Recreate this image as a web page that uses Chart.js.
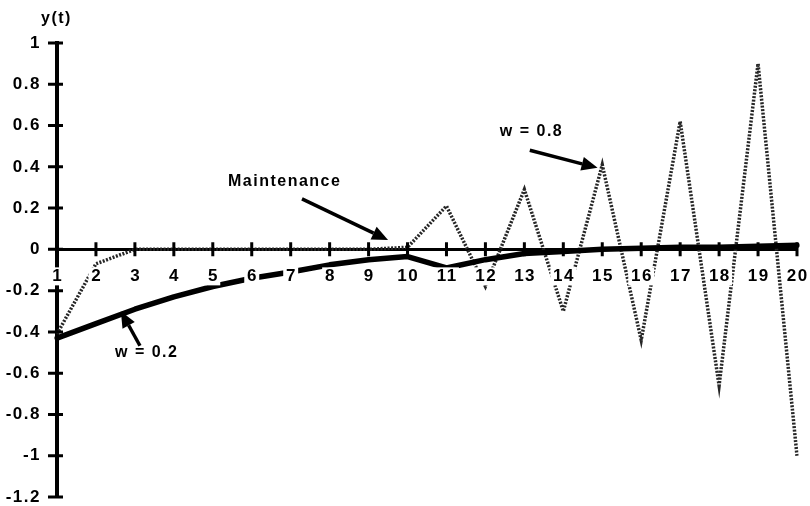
<!DOCTYPE html>
<html>
<head>
<meta charset="utf-8">
<script src="https://cdn.jsdelivr.net/npm/chart.js@4"></script>
<style>
  html, body { margin: 0; padding: 0; background: #fff; }
  #wrap { width: 810px; height: 506px; }
</style>
</head>
<body>
<div id="wrap"><canvas id="c" width="810" height="506"></canvas></div>
<script>
// Time periods t = 1 .. 20
const periods = ['1','2','3','4','5','6','7','8','9','10','11','12','13','14','15','16','17','18','19','20'];

// Response y(t) for smoothing weight w = 0.2 (heavy solid curve)
const responseW02 = [-0.43, -0.36, -0.29, -0.23, -0.18, -0.14, -0.11, -0.075, -0.05, -0.035,
                     -0.09, -0.05, -0.02, -0.01, 0, 0.005, 0.01, 0.01, 0.015, 0.02];

// Response y(t) for smoothing weight w = 0.8 (dotted, oscillating after maintenance)
const responseW08 = [-0.41, -0.07, 0, 0, 0, 0, 0, 0, 0, 0.01,
                     0.21, -0.18, 0.29, -0.30, 0.41, -0.44, 0.62, -0.66, 0.90, -1.0];

// Value axis ticks
const yTickValues = [1, 0.8, 0.6, 0.4, 0.2, 0, -0.2, -0.4, -0.6, -0.8, -1, -1.2];

// Callout labels, anchored in data space (x = category index, y = value)
const callouts = [
  { text: 'Maintenance', at: [4.39, 0.33], from: [6.29, 0.245], to: [8.5, 0.045] },
  { text: 'w = 0.8',     at: [11.37, 0.57], from: [12.14, 0.48], to: [13.88, 0.395] },
  { text: 'w = 0.2',     at: [1.49, -0.50], from: [2.13, -0.467], to: [1.64, -0.30] }
];

const FONT_FAMILY = '"Liberation Sans", Arial, Helvetica, sans-serif';

function fmtTick(v) {
  const r = Math.round(v * 10) / 10;
  return String(r === 0 ? 0 : r);
}

// Slightly spaced lettering for every text on the canvas
const spacing = {
  id: 'spacing',
  beforeDraw(chart) {
    if ('letterSpacing' in chart.ctx) chart.ctx.letterSpacing = '1.5px';
  }
};

// Category labels under the zero line, each on a white patch that breaks the lines behind it
const periodLabels = {
  id: 'periodLabels',
  afterDraw(chart) {
    const { ctx, scales: { x, y } } = chart;
    const y0 = y.getPixelForValue(0);
    ctx.save();
    ctx.font = 'bold 17px ' + FONT_FAMILY;
    ctx.textAlign = 'center';
    ctx.textBaseline = 'middle';
    x.ticks.forEach((t, i) => {
      const label = String(x.getLabelForValue(t.value));
      const px = x.getPixelForTick(i);
      const w = ctx.measureText(label).width;
      const ly = y0 + 27;
      ctx.fillStyle = '#fff';
      ctx.fillRect(px - w / 2 - 2, ly - 9, w + 4, 18);
      ctx.fillStyle = '#000';
      ctx.fillText(label, px + 0.75, ly);
    });
    ctx.restore();
  }
};

// Tick marks that cross each axis line
const crossTicks = {
  id: 'crossTicks',
  afterDraw(chart) {
    const { ctx, scales: { x, y } } = chart;
    const y0 = y.getPixelForValue(0);
    const xAxis = y.right;
    ctx.save();
    ctx.strokeStyle = '#000';
    ctx.lineWidth = 3;
    ctx.beginPath();
    x.ticks.forEach((t, i) => {
      if (i === 0) return;
      const px = x.getPixelForTick(i);
      ctx.moveTo(px, y0 - 7);
      ctx.lineTo(px, y0 + 7);
    });
    y.ticks.forEach((t, i) => {
      const py = y.getPixelForTick(i);
      ctx.moveTo(xAxis - 9, py);
      ctx.lineTo(xAxis + 6, py);
    });
    ctx.stroke();
    ctx.restore();
  }
};

// Axis title and arrowed callouts
const calloutPlugin = {
  id: 'callouts',
  afterDraw(chart) {
    const { ctx, scales: { x, y } } = chart;
    const px = p => [x.getPixelForValue(p[0]), y.getPixelForValue(p[1])];
    ctx.save();
    ctx.fillStyle = '#000';
    ctx.strokeStyle = '#000';
    ctx.font = 'bold 16px ' + FONT_FAMILY;
    ctx.textBaseline = 'middle';
    ctx.textAlign = 'left';

    // y(t) axis title above the value axis
    ctx.fillText('y(t)', y.right - 16, y.top - 24);

    callouts.forEach(c => {
      const [tx, ty] = px(c.at);
      ctx.fillText(c.text, tx, ty);
      const [x1, y1] = px(c.from);
      const [x2, y2] = px(c.to);
      const ang = Math.atan2(y2 - y1, x2 - x1);
      const head = 16, half = 7;
      const bx = x2 - Math.cos(ang) * head, by = y2 - Math.sin(ang) * head;
      ctx.lineWidth = 3.5;
      ctx.beginPath();
      ctx.moveTo(x1, y1);
      ctx.lineTo(bx, by);
      ctx.stroke();
      ctx.beginPath();
      ctx.moveTo(x2, y2);
      ctx.lineTo(bx + Math.sin(ang) * half, by - Math.cos(ang) * half);
      ctx.lineTo(bx - Math.sin(ang) * half, by + Math.cos(ang) * half);
      ctx.closePath();
      ctx.fill();
    });
    ctx.restore();
  }
};

new Chart(document.getElementById('c'), {
  type: 'line',
  data: {
    labels: periods,
    datasets: [
      {
        label: 'w = 0.2',
        data: responseW02,
        borderColor: '#000',
        borderWidth: 5.5,
        pointRadius: 0,
        tension: 0,
        borderCapStyle: 'round',
        borderJoinStyle: 'round'
      },
      {
        label: 'w = 0.8',
        data: responseW08,
        borderColor: '#262626',
        borderWidth: 3.5,
        borderDash: [2, 1.5],
        pointRadius: 0,
        tension: 0
      }
    ]
  },
  options: {
    responsive: false,
    animation: false,
    devicePixelRatio: 1,
    layout: { padding: { top: 43, bottom: 9, right: 13, left: 0 } },
    plugins: { legend: { display: false }, tooltip: { enabled: false } },
    scales: {
      x: {
        type: 'category',
        position: { y: 0 },
        offset: false,
        grid: { display: false, drawTicks: false },
        border: { display: true, color: '#000', width: 3 },
        ticks: { display: false, autoSkip: false, maxRotation: 0 }
      },
      y: {
        type: 'linear',
        position: 'left',
        min: -1.2,
        max: 1,
        afterBuildTicks: s => { s.ticks = yTickValues.map(v => ({ value: v })); },
        afterFit: s => { s.width = 57; s.paddingTop = 0; s.paddingBottom = 0; },
        grid: { display: false, drawTicks: false },
        border: { display: true, color: '#000', width: 4 },
        ticks: {
          padding: 16,
          color: '#000',
          font: { family: FONT_FAMILY, size: 17, weight: 'bold' },
          callback: v => fmtTick(v)
        }
      }
    }
  },
  plugins: [spacing, crossTicks, periodLabels, calloutPlugin]
});
</script>
</body>
</html>
